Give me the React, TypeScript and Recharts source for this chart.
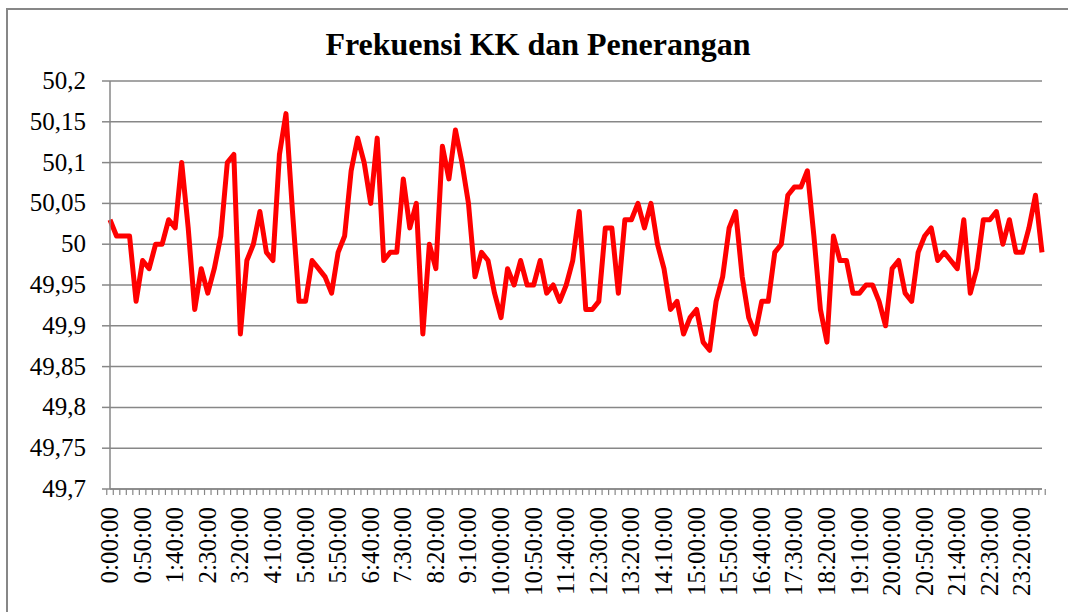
import React from "react";
import { LineChart, Line, XAxis, YAxis, CartesianGrid } from "recharts";

const times = [
  "0:00:00", "0:10:00", "0:20:00", "0:30:00", "0:40:00", "0:50:00",
  "1:00:00", "1:10:00", "1:20:00", "1:30:00", "1:40:00", "1:50:00",
  "2:00:00", "2:10:00", "2:20:00", "2:30:00", "2:40:00", "2:50:00",
  "3:00:00", "3:10:00", "3:20:00", "3:30:00", "3:40:00", "3:50:00",
  "4:00:00", "4:10:00", "4:20:00", "4:30:00", "4:40:00", "4:50:00",
  "5:00:00", "5:10:00", "5:20:00", "5:30:00", "5:40:00", "5:50:00",
  "6:00:00", "6:10:00", "6:20:00", "6:30:00", "6:40:00", "6:50:00",
  "7:00:00", "7:10:00", "7:20:00", "7:30:00", "7:40:00", "7:50:00",
  "8:00:00", "8:10:00", "8:20:00", "8:30:00", "8:40:00", "8:50:00",
  "9:00:00", "9:10:00", "9:20:00", "9:30:00", "9:40:00", "9:50:00",
  "10:00:00", "10:10:00", "10:20:00", "10:30:00", "10:40:00", "10:50:00",
  "11:00:00", "11:10:00", "11:20:00", "11:30:00", "11:40:00", "11:50:00",
  "12:00:00", "12:10:00", "12:20:00", "12:30:00", "12:40:00", "12:50:00",
  "13:00:00", "13:10:00", "13:20:00", "13:30:00", "13:40:00", "13:50:00",
  "14:00:00", "14:10:00", "14:20:00", "14:30:00", "14:40:00", "14:50:00",
  "15:00:00", "15:10:00", "15:20:00", "15:30:00", "15:40:00", "15:50:00",
  "16:00:00", "16:10:00", "16:20:00", "16:30:00", "16:40:00", "16:50:00",
  "17:00:00", "17:10:00", "17:20:00", "17:30:00", "17:40:00", "17:50:00",
  "18:00:00", "18:10:00", "18:20:00", "18:30:00", "18:40:00", "18:50:00",
  "19:00:00", "19:10:00", "19:20:00", "19:30:00", "19:40:00", "19:50:00",
  "20:00:00", "20:10:00", "20:20:00", "20:30:00", "20:40:00", "20:50:00",
  "21:00:00", "21:10:00", "21:20:00", "21:30:00", "21:40:00", "21:50:00",
  "22:00:00", "22:10:00", "22:20:00", "22:30:00", "22:40:00", "22:50:00",
  "23:00:00", "23:10:00", "23:20:00", "23:30:00", "23:40:00", "23:50:00",
];

const frekuensi = [
  50.03, 50.01, 50.01, 50.01, 49.93, 49.98, 49.97, 50.0, 50.0, 50.03,
  50.02, 50.1, 50.02, 49.92, 49.97, 49.94, 49.97, 50.01, 50.1, 50.11,
  49.89, 49.98, 50.0, 50.04, 49.99, 49.98, 50.11, 50.16, 50.04, 49.93,
  49.93, 49.98, 49.97, 49.96, 49.94, 49.99, 50.01, 50.09, 50.13, 50.1,
  50.05, 50.13, 49.98, 49.99, 49.99, 50.08, 50.02, 50.05, 49.89, 50.0,
  49.97, 50.12, 50.08, 50.14, 50.1, 50.05, 49.96, 49.99, 49.98, 49.94,
  49.91, 49.97, 49.95, 49.98, 49.95, 49.95, 49.98, 49.94, 49.95, 49.93,
  49.95, 49.98, 50.04, 49.92, 49.92, 49.93, 50.02, 50.02, 49.94, 50.03,
  50.03, 50.05, 50.02, 50.05, 50.0, 49.97, 49.92, 49.93, 49.89, 49.91,
  49.92, 49.88, 49.87, 49.93, 49.96, 50.02, 50.04, 49.96, 49.91, 49.89,
  49.93, 49.93, 49.99, 50.0, 50.06, 50.07, 50.07, 50.09, 50.01, 49.92,
  49.88, 50.01, 49.98, 49.98, 49.94, 49.94, 49.95, 49.95, 49.93, 49.9,
  49.97, 49.98, 49.94, 49.93, 49.99, 50.01, 50.02, 49.98, 49.99, 49.98,
  49.97, 50.03, 49.94, 49.97, 50.03, 50.03, 50.04, 50.0, 50.03, 49.99,
  49.99, 50.02, 50.06, 49.99,
];

const yTicks = [49.7, 49.75, 49.8, 49.85, 49.9, 49.95, 50, 50.05, 50.1, 50.15, 50.2];

const data = times.map((t, i) => ({ t, f: frekuensi[i] }));

const FONT = '"Liberation Serif", "Times New Roman", serif';
const GRAY = "#878787";
const CHART_W = 1068;
const CHART_H = 612;
const Y_AXIS_W = 110;
const RIGHT_GAP = 26;
const HALF_BAND = (CHART_W - Y_AXIS_W - RIGHT_GAP) / times.length / 2;

const formatY = (v: number) => String(Number(v.toFixed(2))).replace(".", ",");

function TimeTick(props: any) {
  const { x, y, payload } = props;
  const index = props.index ?? payload.index;
  return (
    <g>
      <line x1={x - HALF_BAND} x2={x - HALF_BAND} y1={y} y2={y + 6} stroke={GRAY} strokeWidth={1.2} />
      {index === times.length - 1 && (
        <line x1={x + HALF_BAND} x2={x + HALF_BAND} y1={y} y2={y + 6} stroke={GRAY} strokeWidth={1.2} />
      )}
      {index % 5 === 0 && (
        <text
          transform={`translate(${x + 8},${y + 18}) rotate(-90)`}
          textAnchor="end"
          fill="#000"
          style={{ fontFamily: FONT, fontSize: 25 }}
        >
          {payload.value}
        </text>
      )}
    </g>
  );
}

function ValueTick(props: any) {
  const { x, y, payload } = props;
  return (
    <text x={x} y={y} dy={8} textAnchor="end" fill="#000" style={{ fontFamily: FONT, fontSize: 25 }}>
      {formatY(payload.value)}
    </text>
  );
}

export default function App() {
  return (
    <div
      style={{
        position: "absolute",
        left: 0,
        top: 0,
        width: CHART_W,
        height: CHART_H,
        overflow: "hidden",
        background: "#fff",
      }}
    >
      <div
        style={{
          position: "absolute",
          left: 6,
          top: 8,
          width: 1200,
          height: 800,
          border: `2px solid ${GRAY}`,
        }}
      />
      <LineChart
        width={CHART_W}
        height={CHART_H}
        data={data}
        margin={{ top: 81, right: RIGHT_GAP, bottom: 0, left: 0 }}
      >
        <CartesianGrid vertical={false} stroke={GRAY} strokeWidth={1.5} />
        <XAxis
          dataKey="t"
          interval={0}
          height={123}
          tickSize={0}
          tickMargin={0}
          tickLine={false}
          axisLine={{ stroke: GRAY, strokeWidth: 1.5 }}
          tick={<TimeTick />}
        />
        <YAxis
          domain={[49.7, 50.2]}
          ticks={yTicks}
          width={Y_AXIS_W}
          tickSize={8}
          tickMargin={16}
          tickLine={{ stroke: GRAY, strokeWidth: 1.5 }}
          axisLine={{ stroke: GRAY, strokeWidth: 1.5 }}
          tick={<ValueTick />}
          allowDataOverflow
        />
        <Line
          type="linear"
          dataKey="f"
          stroke="#ff0000"
          strokeWidth={5}
          strokeLinejoin="round"
          dot={false}
          isAnimationActive={false}
        />
      </LineChart>
      <svg
        width={CHART_W}
        height={100}
        style={{ position: "absolute", left: 0, top: 0, pointerEvents: "none" }}
      >
        <text x={538} y={55} textAnchor="middle" fill="#000" style={{ fontFamily: FONT, fontSize: 32, fontWeight: "bold" }}>
          Frekuensi KK dan Penerangan
        </text>
      </svg>
    </div>
  );
}
